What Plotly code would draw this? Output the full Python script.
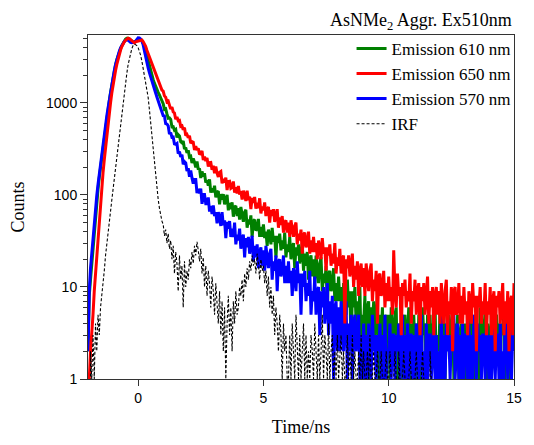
import numpy as np
import plotly.graph_objects as go

# time channels (ns), 0.05 ns apart from -2 to 15
time_ns = np.round(np.arange(-2.0, 15.0001, 0.05), 2)

# counts, one row per ns (20 channels per row)
em610 = [
    2, 8, 12, 18, 28, 42, 60, 85, 115, 155, 200, 260, 330, 430, 550, 690, 850, 1050, 1300, 1580,
    1900, 2250, 2600, 2950, 3300, 3600, 3900, 4200, 4500, 4750, 4950, 5050, 5050, 4950, 4800, 4700, 4600, 4580, 4650, 4780,
    4900, 4920, 4850, 4750, 4500, 4150, 3700, 3250, 2800, 2500, 2250, 2000, 1800, 1640, 1500, 1400, 1300, 1220, 1150, 1060,
    982, 851, 863, 759, 683, 688, 662, 549, 552, 506, 517, 422, 453, 438, 379, 369, 385, 316, 327, 286,
    305, 258, 263, 222, 249, 227, 199, 231, 189, 194, 153, 180, 159, 172, 136, 145, 126, 148, 106, 118,
    107, 126, 94, 107, 110, 79, 102, 89, 102, 79, 87, 100, 68, 82, 70, 83, 58, 74, 76, 59,
    72, 54, 74, 59, 51, 65, 69, 44, 54, 48, 60, 35, 52, 54, 41, 43, 55, 35, 45, 35,
    48, 34, 40, 28, 42, 37, 29, 44, 31, 36, 21, 36, 30, 38, 25, 32, 26, 39, 21, 29,
    24, 35, 20, 27, 30, 16, 27, 22, 29, 18, 23, 30, 15, 23, 17, 24, 12, 20, 22, 13,
    20, 11, 22, 15, 11, 18, 21, 9, 14, 11, 17, 6, 14, 15, 9, 10, 16, 7, 11, 7,
    13, 7, 10, 4, 11, 8, 5, 12, 6, 9, 2, 9, 6, 10, 4, 7, 4, 10, 2, 5,
    4, 8, 2, 6, 7, 1, 6, 4, 7, 3, 5, 8, 1, 5, 3, 6, 1, 4, 5, 2,
    5, 1, 6, 3, 2, 5, 6, 1, 4, 2, 5, 1, 4, 5, 2, 3, 6, 1, 4, 2,
    5, 2, 4, 1, 5, 3, 1, 6, 3, 4, 1, 5, 3, 5, 2, 4, 2, 7, 1, 3,
    2, 6, 1, 4, 5, 1, 4, 3, 5, 2, 3, 6, 1, 4, 2, 5, 1, 3, 4, 1,
    2, 4, 1, 6, 3, 2, 5, 4, 1, 5, 2, 3, 1, 6, 5, 2, 3, 6, 1, 4,
    3, 1, 7, 2, 4, 2, 5, 3, 4, 1, 4, 3, 6, 1, 3, 5, 1, 4, 2, 5,
    3]

em650 = [
    1, 1, 2, 3, 5, 9, 14, 22, 32, 55, 90, 125, 175, 240, 330, 450, 600, 780, 1000, 1280,
    1600, 1920, 2250, 2620, 3000, 3380, 3750, 4100, 4400, 4620, 4800, 4950, 5050, 5000, 4880, 4700, 4550, 4500, 4620, 4650,
    4720, 4800, 4750, 4820, 4650, 4400, 4120, 3730, 3420, 3130, 2910, 2660, 2470, 2230, 2060, 1890, 1760, 1600, 1490, 1380,
    1343, 1192, 1150, 1030, 1049, 958, 857, 902, 799, 777, 664, 701, 640, 645, 556, 564, 511, 539, 442, 454,
    420, 440, 364, 380, 374, 307, 338, 307, 322, 275, 283, 301, 239, 261, 234, 253, 204, 224, 225, 188,
    207, 172, 203, 173, 157, 176, 180, 134, 149, 137, 154, 113, 140, 141, 118, 121, 140, 106, 121, 104,
    125, 101, 110, 89, 111, 100, 86, 111, 88, 96, 70, 93, 82, 95, 71, 82, 72, 92, 63, 75,
    68, 83, 59, 70, 74, 50, 69, 59, 70, 51, 59, 70, 44, 57, 47, 59, 39, 50, 53, 39,
    50, 35, 53, 41, 35, 46, 50, 29, 38, 32, 42, 23, 37, 39, 27, 30, 40, 23, 32, 24,
    35, 24, 30, 20, 32, 27, 20, 34, 23, 27, 15, 27, 22, 29, 17, 23, 18, 30, 14, 21,
    17, 26, 14, 20, 22, 4, 20, 16, 22, 13, 17, 23, 10, 17, 12, 19, 8, 15, 18, 10,
    16, 8, 18, 12, 9, 15, 18, 7, 12, 9, 15, 4, 13, 14, 8, 9, 15, 6, 11, 7,
    13, 7, 10, 5, 25, 9, 6, 14, 8, 10, 3, 11, 8, 12, 6, 9, 7, 14, 4, 9,
    7, 12, 5, 9, 11, 3, 10, 7, 11, 5, 8, 13, 4, 9, 6, 10, 3, 8, 10, 5,
    9, 4, 11, 7, 4, 9, 12, 3, 7, 5, 10, 2, 9, 10, 5, 6, 11, 4, 8, 4,
    10, 5, 7, 3, 9, 7, 4, 11, 6, 8, 2, 8, 6, 10, 4, 7, 5, 11, 3, 7,
    5, 10, 3, 7, 9, 2, 8, 6, 9, 4, 6, 11, 3, 7, 4, 9, 2, 7, 8, 3,
    11]

em570 = [
    2, 9, 16, 24, 34, 50, 70, 98, 130, 170, 220, 285, 360, 460, 580, 720, 880, 1080, 1330, 1600,
    1900, 2250, 2600, 2950, 3300, 3650, 3950, 4200, 4450, 4650, 4800, 4850, 4800, 4650, 4550, 4500, 4500, 4580, 4700, 4900,
    5100, 5080, 4950, 4700, 4300, 3700, 3100, 2700, 2400, 2130, 1900, 1720, 1550, 1410, 1280, 1160, 1050, 950, 870, 800,
    726, 722, 595, 590, 563, 460, 475, 424, 426, 358, 354, 362, 281, 296, 259, 273, 215, 230, 223, 182,
    195, 158, 184, 153, 133, 147, 147, 105, 116, 104, 117, 80, 101, 101, 80, 80, 94, 66, 76, 62,
    77, 59, 65, 49, 65, 57, 46, 65, 47, 53, 34, 51, 43, 52, 35, 43, 35, 50, 29, 37,
    32, 43, 26, 34, 37, 21, 34, 27, 35, 23, 28, 36, 19, 28, 21, 29, 16, 24, 27, 17,
    25, 15, 28, 20, 16, 23, 26, 12, 19, 15, 22, 9, 19, 20, 13, 15, 22, 11, 17, 11,
    19, 11, 15, 8, 16, 13, 9, 19, 11, 14, 5, 14, 10, 15, 7, 11, 8, 15, 5, 9,
    7, 13, 5, 9, 10, 3, 9, 6, 10, 4, 7, 11, 3, 7, 4, 8, 1, 6, 7, 2,
    6, 2, 7, 4, 2, 5, 7, 1, 4, 2, 5, 1, 4, 5, 2, 3, 5, 1, 3, 1,
    4, 1, 3, 1, 4, 2, 1, 5, 2, 3, 1, 3, 2, 4, 1, 3, 1, 5, 1, 2,
    2, 4, 1, 3, 3, 1, 3, 2, 4, 1, 3, 5, 1, 3, 1, 4, 1, 3, 3, 1,
    3, 1, 4, 2, 1, 3, 5, 1, 2, 1, 4, 1, 3, 3, 1, 2, 4, 1, 3, 1,
    2, 1, 5, 1, 3, 1, 4, 2, 3, 1, 3, 2, 5, 1, 2, 4, 1, 3, 1, 4,
    1, 3, 3, 1, 4, 1, 3, 1, 5, 3, 1, 4, 2, 3, 1, 3, 3, 1, 4, 2,
    1, 3, 1, 4, 2, 1, 3, 3, 1, 4, 1, 2, 1, 5, 3, 1, 2, 4, 1, 3,
    2]

irf = [
    1, 0, 2, 1, 3, 1, 4, 2, 5, 3, 6, 8, 10, 15, 22, 30, 38, 50, 65, 88,
    115, 150, 200, 265, 350, 470, 620, 820, 1050, 1350, 1700, 2100, 2600, 3050, 3500, 3900, 4200, 4350, 4300, 4200,
    4000, 3700, 3300, 2850, 2400, 2000, 1700, 1400, 1150, 850, 600, 420, 320, 230, 170, 125, 90, 72, 60, 52,
    48, 36, 42, 30, 38, 26, 32, 20, 28, 14, 24, 18, 9, 22, 12, 17, 6, 19, 10, 15,
    12, 20, 16, 24, 18, 28, 22, 31, 25, 19, 26, 14, 21, 10, 17, 8, 15, 11, 6, 13,
    9, 5, 11, 7, 4, 9, 3, 7, 2, 6, 1, 4, 8, 3, 6, 2, 7, 4, 9, 5,
    6, 10, 8, 12, 7, 14, 10, 16, 12, 19, 15, 22, 17, 20, 14, 23, 18, 12, 20, 15,
    17, 11, 15, 8, 13, 6, 10, 5, 8, 3, 6, 4, 2, 5, 3, 1, 4, 2, 3, 1,
    1, 3, 1, 4, 2, 1, 5, 2, 1, 3, 1, 2, 4, 1, 3, 1, 2, 1, 3, 2,
    1, 4, 2, 1, 3, 1, 2, 5, 1, 3, 2, 1, 4, 1, 2, 3, 1, 2, 1, 3,
    1, 2, 3, 1, 2, 1, 1, 3, 1, 2, 1, 3, 1, 2, 1, 1, 2, 1, 3, 1,
    2, 1, 1, 2, 1, 3, 1, 1, 2, 1, 1, 2, 1, 1, 2, 1, 1, 1, 2, 1,
    1, 2, 1, 0, 1, 2, 1, 0, 2, 1, 0, 1, 2, 1, 0, 1, 1, 2, 1, 0,
    1, 1, 2, 1, 0, 0, 1, 2, 1, 0, 0, 1, 0, 2, 1, 0, 0, 1, 0, 0,
    0, 0, 0, 0, 0, 0, 0, 0, 0, 0, 0, 0, 0, 0, 0, 0, 0, 0, 0, 0,
    0, 0, 0, 0, 0, 0, 0, 0, 0, 0, 0, 0, 0, 0, 0, 0, 0, 0, 0, 0,
    0, 0, 0, 0, 0, 0, 0, 0, 0, 0, 0, 0, 0, 0, 0, 0, 0, 0, 0, 0,
    0]

y_major = [1, 10, 100, 1000]
y_major_text = ["1", "10", "100", "1000"]
y_minor = [m * d for d in (1, 10, 100, 1000) for m in range(2, 10) if m * d < 5600]
x_major = [0, 5, 10, 15]

serif = "Liberation Serif"
sans = "Liberation Sans"

fig = go.Figure()
fig.add_trace(go.Scatter(x=time_ns, y=em610, mode="lines", name="Emission 610 nm",
                         line=dict(color="#008000", width=3), legendrank=1))
fig.add_trace(go.Scatter(x=time_ns, y=em570, mode="lines", name="Emission 570 nm",
                         line=dict(color="#0000FF", width=3), legendrank=3))
fig.add_trace(go.Scatter(x=time_ns, y=em650, mode="lines", name="Emission 650 nm",
                         line=dict(color="#FF0000", width=3), legendrank=2))
fig.add_trace(go.Scatter(x=time_ns, y=irf, mode="lines", name="IRF",
                         line=dict(color="black", width=1.1, dash="3px,2px"), legendrank=4))

fig.update_layout(
    width=534, height=445,
    margin=dict(l=88, r=14, t=35, b=60),
    paper_bgcolor="white", plot_bgcolor="white",
    showlegend=True,
    legend=dict(x=1.006, xanchor="right", y=1.012, yanchor="top",
                bgcolor="rgba(0,0,0,0)", font=dict(family=serif, size=17, color="black"),
                tracegroupgap=0),
    annotations=[dict(text="AsNMe<sub>2</sub> Aggr. Ex510nm", xref="paper", yref="paper",
                      x=1, y=1.0, xanchor="right", yanchor="bottom", showarrow=False,
                      font=dict(family=serif, size=18, color="black"))],
)
fig.update_xaxes(range=[-2, 15], tickvals=x_major, ticks="outside", ticklen=6,
                 tickcolor="#333", showline=True, linecolor="#333", linewidth=1,
                 mirror=True, showgrid=False, zeroline=False,
                 tickfont=dict(family=sans, size=14, color="black"),
                 title=dict(text="Time/ns", font=dict(family=serif, size=18, color="black"),
                            standoff=15))
fig.update_yaxes(type="log", range=[0, 3.738], tickvals=y_major, ticktext=y_major_text,
                 ticks="outside", ticklen=7, tickcolor="#333",
                 minor=dict(tickvals=y_minor, ticks="outside", ticklen=4, tickcolor="#333"),
                 showline=True, linecolor="#333", linewidth=1, mirror=True,
                 showgrid=False, zeroline=False,
                 tickfont=dict(family=sans, size=14, color="black"),
                 title=dict(text="Counts", font=dict(family=serif, size=18, color="black"),
                            standoff=16))

fig.write_html("out.html")
